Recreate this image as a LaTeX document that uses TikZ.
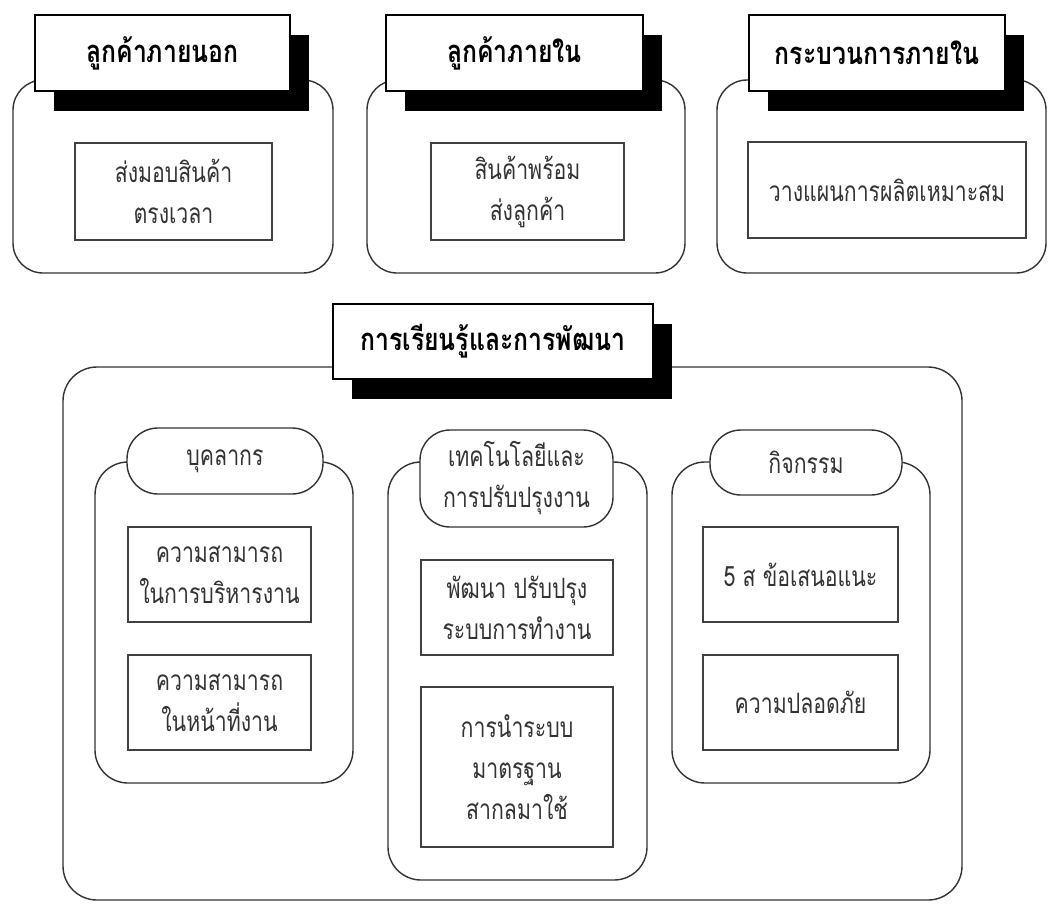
\documentclass[tikz,border=0pt]{standalone}
\usepackage{fontspec}
\newfontfamily\thai[Script=Thai,FakeStretch=0.76]{Loma}
\newfontfamily\thaihead[Script=Thai,FakeStretch=0.8]{Loma}
\begin{document}
\begin{tikzpicture}[x=1pt,y=-1pt,
  frame/.style={draw=black!80,line width=1.4pt,rounded corners=30pt,fill=white},
  item/.style={draw=black!75,line width=1.4pt,fill=white,align=center,
    font=\thai\fontsize{28}{41}\selectfont,text=black!80},
  pill/.style={draw=black!80,line width=1.4pt,rounded corners=31pt,fill=white,align=center,
    font=\thai\fontsize{28}{41}\selectfont,text=black!80},
  heading/.style={draw=black,line width=1.4pt,fill=white,align=center,
    font=\thaihead\bfseries\fontsize{31}{36}\selectfont},
  shade/.style={fill=black,draw=none}]
\useasboundingbox (0,0) rectangle (1048,905);

% top row: three perspective panels
\node[frame,minimum width=320pt,minimum height=193pt] (outA) at (173,176.5) {};
\node[frame,minimum width=318pt,minimum height=193pt] (outB) at (526,176.5) {};
\node[frame,minimum width=329pt,minimum height=193pt] (outC) at (881.5,176.5) {};

\node[shade,minimum width=255pt,minimum height=76pt] (shA) at (181.5,73) {};
\node[shade,minimum width=257pt,minimum height=76pt] (shB) at (533.5,73) {};
\node[shade,minimum width=256pt,minimum height=76pt] (shC) at (896,73) {};

\node[heading,minimum width=255pt,minimum height=76pt] (hA) at (162.5,53) {ลูกค้าภายนอก};
\node[heading,minimum width=257pt,minimum height=76pt] (hB) at (514.5,53) {ลูกค้าภายใน};
\node[heading,minimum width=256pt,minimum height=76pt] (hC) at (877,53) {กระบวนการภายใน};

\node[item,minimum width=197pt,minimum height=97pt] (iA) at (173.5,191.5) {ส่งมอบสินค้า\\ตรงเวลา};
\node[item,minimum width=193pt,minimum height=97pt] (iB) at (527.5,191.5) {สินค้าพร้อม\\ส่งลูกค้า};
\node[item,minimum width=278pt,minimum height=96pt] (iC) at (887,190) {วางแผนการผลิตเหมาะสม};

% learning and growth panel
\node[frame,rounded corners=34pt,minimum width=899pt,minimum height=533pt] (big) at (512.5,633.5) {};
\node[shade,minimum width=320pt,minimum height=75pt] (shL) at (512,361.5) {};
\node[heading,minimum width=320pt,minimum height=75pt] (hL) at (493,341.5) {การเรียนรู้และการพัฒนา};

% three groups inside
\node[frame,rounded corners=33pt,minimum width=258pt,minimum height=321pt] (g1) at (224,622.5) {};
\node[frame,rounded corners=33pt,minimum width=259pt,minimum height=418pt] (g2) at (517.5,671) {};
\node[frame,rounded corners=33pt,minimum width=258pt,minimum height=321pt] (g3) at (801,622.5) {};

\node[pill,minimum width=196pt,minimum height=66pt] (p1) at (225,461) {บุคลากร};
\node[pill,rounded corners=30pt,minimum width=193pt,minimum height=97pt] (p2) at (516.5,478.5) {เทคโนโลยีและ\\การปรับปรุงงาน};
\node[pill,minimum width=192pt,minimum height=65pt] (p3) at (806,462.5) {กิจกรรม};

\node[item,minimum width=183pt,minimum height=95pt] (b11) at (219.5,574.5) {ความสามารถ\\ในการบริหารงาน};
\node[item,minimum width=183pt,minimum height=95pt] (b12) at (219.5,702.5) {ความสามารถ\\ในหน้าที่งาน};

\node[item,minimum width=192pt,minimum height=95pt] (b21) at (517,607.5) {พัฒนา ปรับปรุง\\ระบบการทำงาน};
\node[item,minimum width=192pt,minimum height=160pt] (b22) at (517,767) {การนำระบบ\\มาตรฐาน\\สากลมาใช้};

\node[item,minimum width=195pt,minimum height=95pt] (b31) at (800.5,574.5) {5 ส ข้อเสนอแนะ};
\node[item,minimum width=195pt,minimum height=95pt] (b32) at (800.5,702.5) {ความปลอดภัย};
\end{tikzpicture}
\end{document}
